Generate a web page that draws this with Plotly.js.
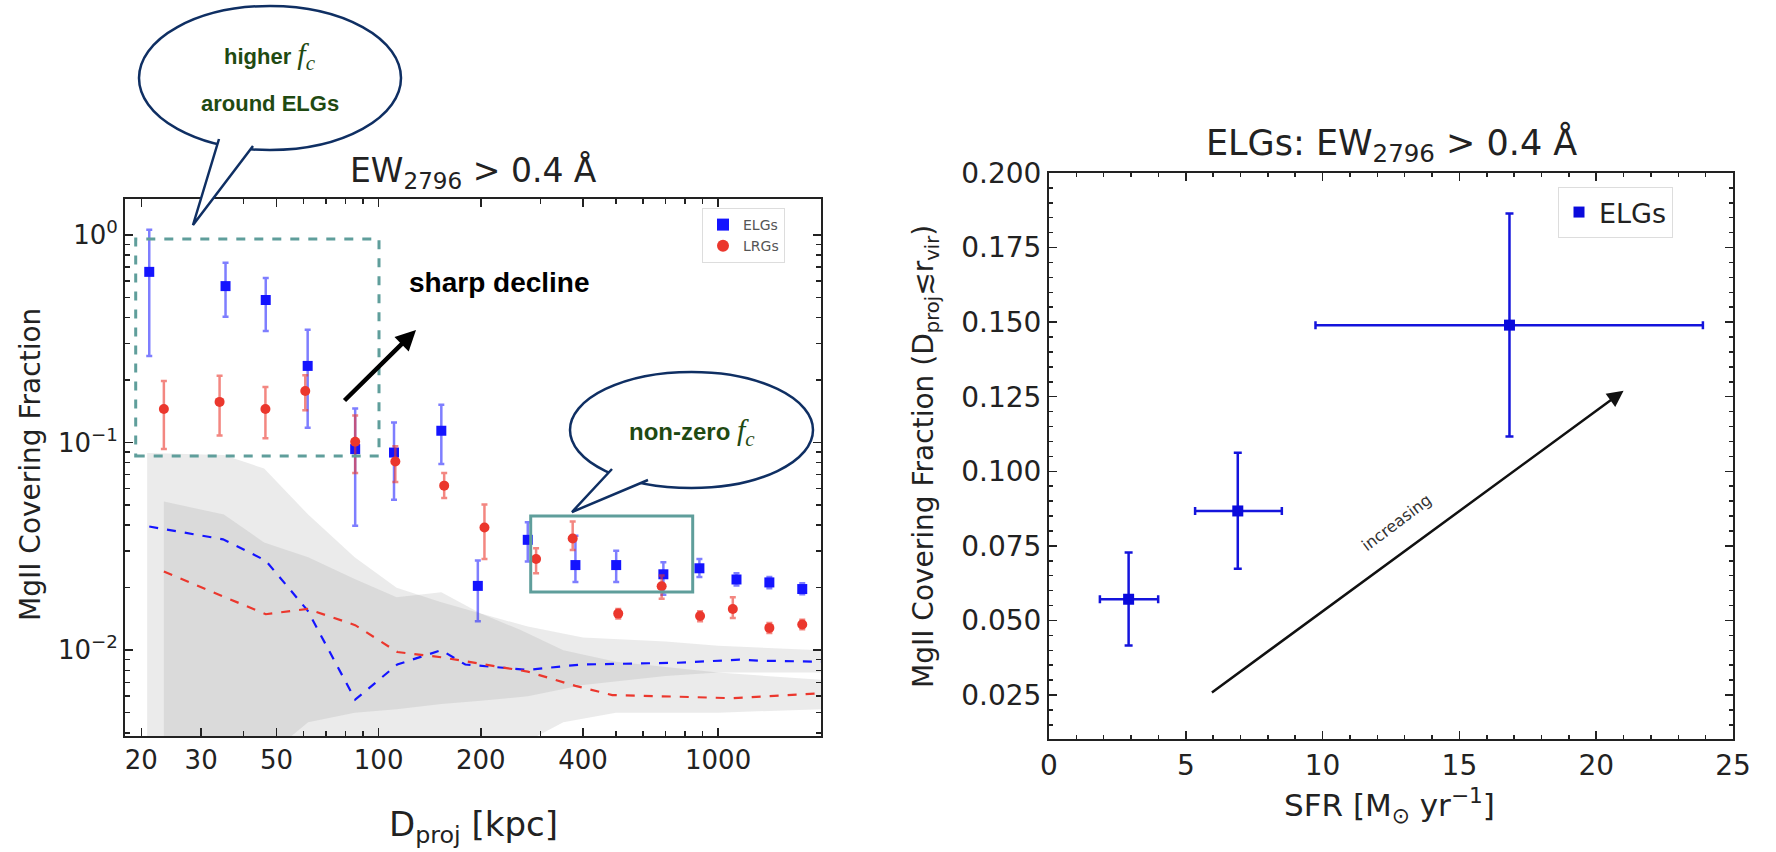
<!DOCTYPE html>
<html><head><meta charset="utf-8">
<script src="https://cdn.plot.ly/plotly-3.0.1.min.js"></script>
<style>html,body{margin:0;padding:0;background:#fff}</style>
</head><body><div id="plot" style="width:1776px;height:852px"></div>
<script>
// ---- Left panel data ----
const elgD   = [21.1, 35.4, 46.5, 61.8, 85.3, 111, 153, 196, 275, 380, 501, 690, 881, 1133, 1416, 1770];
const elgF   = [0.664, 0.567, 0.486, 0.234, 0.093, 0.0895, 0.114, 0.0204, 0.034, 0.0257, 0.0257, 0.0232, 0.0248, 0.0219, 0.0212, 0.0197];
const elgHi  = [1.06, 0.734, 0.621, 0.349, 0.146, 0.125, 0.152, 0.027, 0.0413, 0.0356, 0.0301, 0.0265, 0.0275, 0.0235, 0.0225, 0.021];
const elgLo  = [0.261, 0.404, 0.345, 0.118, 0.0398, 0.053, 0.0788, 0.0138, 0.0267, 0.0213, 0.0213, 0.0185, 0.0225, 0.0205, 0.0199, 0.0186];
const lrgD   = [23.3, 34, 46.4, 60.8, 85.3, 112, 156, 205, 291, 373, 508, 682, 885, 1105, 1416, 1770];
const lrgF   = [0.145, 0.157, 0.145, 0.177, 0.101, 0.081, 0.062, 0.039, 0.0275, 0.0345, 0.015, 0.0203, 0.0146, 0.0158, 0.0128, 0.0133];
const lrgHi  = [0.198, 0.21, 0.185, 0.211, 0.135, 0.096, 0.0713, 0.0503, 0.031, 0.0417, 0.0158, 0.0229, 0.0154, 0.018, 0.0135, 0.014];
const lrgLo  = [0.093, 0.108, 0.105, 0.143, 0.0713, 0.0646, 0.054, 0.0275, 0.0235, 0.0304, 0.0142, 0.0177, 0.0138, 0.0143, 0.0121, 0.0126];
const elgRandD = [21.1, 34.8, 46.5, 61.8, 85.3, 113.5, 153, 180, 275, 395, 760, 1156, 1320, 2010];
const elgRandF = [0.0394, 0.0342, 0.027, 0.0155, 0.00578, 0.00853, 0.0100, 0.00853, 0.00804, 0.00853, 0.0087, 0.0090, 0.0089, 0.0088];
const lrgRandD = [23.3, 34.8, 46.5, 61.8, 85.3, 113.5, 153, 206, 275, 380, 488, 760, 1100, 2010];
const lrgRandF = [0.0239, 0.0181, 0.0149, 0.0158, 0.0132, 0.0098, 0.00924, 0.00853, 0.00788, 0.00673, 0.00608, 0.00597, 0.00587, 0.0062];
const elgBandD  = [20.8, 35, 46, 62, 85, 113, 153, 200, 275, 400, 700, 1000, 2010];
const elgBandHi = [0.089, 0.087, 0.075, 0.045, 0.028, 0.020, 0.017, 0.015, 0.013, 0.0115, 0.011, 0.0105, 0.0100];
const elgBandLo = [0.003, 0.003, 0.003, 0.0045, 0.005, 0.0052, 0.0055, 0.0057, 0.006, 0.0068, 0.0075, 0.0078, 0.0078];
const lrgBandD  = [23.3, 35, 46, 62, 85, 113, 153, 200, 262, 350, 500, 1000, 2010];
const lrgBandHi = [0.052, 0.045, 0.033, 0.028, 0.022, 0.018, 0.019, 0.015, 0.0125, 0.0100, 0.0088, 0.0078, 0.0072];
const lrgBandLo = [0.003, 0.003, 0.003, 0.003, 0.003, 0.003, 0.003, 0.003, 0.0035, 0.0045, 0.005, 0.005, 0.0052];
const leftXTicks = [20, 30, 50, 100, 200, 400, 1000];
const leftYTicks = [0.01, 0.1, 1];
const leftYText  = ['10<sup>−2</sup>', '10<sup>−1</sup>', '10<sup>0</sup>'];
// ---- Right panel data ----
const sfr    = [2.91, 6.90, 16.83];
const sfrLo  = [1.86, 5.34, 9.74];
const sfrHi  = [3.99, 8.51, 23.9];
const fcV    = [0.0571, 0.0867, 0.149];
const fcLo   = [0.0416, 0.0673, 0.1117];
const fcHi   = [0.0728, 0.1062, 0.1864];

const W = 1776, H = 852;
const px = x => x / W, py = y => 1 - y / H;
const sub = (a, b) => a.map((v, i) => v - b[i]);
const BLUE = 'rgb(20,20,255)', RED = 'rgb(235,55,45)';
const FONT = 'DejaVu Sans, sans-serif';
const band = (d, lo, hi) => ({x: d.concat(d.slice().reverse()), y: hi.concat(lo.slice().reverse())});

const eb = band(elgBandD, elgBandLo, elgBandHi), lb = band(lrgBandD, lrgBandLo, lrgBandHi);
const traces = [
  {x: eb.x, y: eb.y, fill: 'toself', mode: 'none', fillcolor: 'rgba(128,128,128,0.16)', showlegend: false, xaxis: 'x', yaxis: 'y', hoverinfo: 'skip'},
  {x: lb.x, y: lb.y, fill: 'toself', mode: 'none', fillcolor: 'rgba(128,128,128,0.16)', showlegend: false, xaxis: 'x', yaxis: 'y', hoverinfo: 'skip'},
  {x: elgRandD, y: elgRandF, mode: 'lines', line: {color: BLUE, dash: 'dash', width: 2.2}, showlegend: false},
  {x: lrgRandD, y: lrgRandF, mode: 'lines', line: {color: RED, dash: 'dash', width: 2.2}, showlegend: false},
  {x: elgD, y: elgF, mode: 'markers', name: 'ELGs', legend: 'legend',
   marker: {symbol: 'square', size: 10, color: BLUE},
   error_y: {type: 'data', symmetric: false, array: sub(elgHi, elgF), arrayminus: sub(elgF, elgLo), color: 'rgba(40,40,255,0.6)', thickness: 2.5, width: 3}},
  {x: lrgD, y: lrgF, mode: 'markers', name: 'LRGs', legend: 'legend',
   marker: {symbol: 'circle', size: 10, color: RED},
   error_y: {type: 'data', symmetric: false, array: sub(lrgHi, lrgF), arrayminus: sub(lrgF, lrgLo), color: 'rgba(235,55,45,0.6)', thickness: 2.5, width: 3}},
  {x: sfr, y: fcV, xaxis: 'x2', yaxis: 'y2', mode: 'markers', name: 'ELGs', legend: 'legend2',
   marker: {symbol: 'square', size: 11, color: 'rgb(10,10,220)'},
   error_x: {type: 'data', symmetric: false, array: sub(sfrHi, sfr), arrayminus: sub(sfr, sfrLo), color: 'rgb(20,20,220)', thickness: 2.5, width: 4},
   error_y: {type: 'data', symmetric: false, array: sub(fcHi, fcV), arrayminus: sub(fcV, fcLo), color: 'rgb(20,20,220)', thickness: 2.5, width: 4}}
];

const axBase = {showline: true, linecolor: '#222', linewidth: 2, mirror: 'allticks', ticks: 'inside', ticklen: 8, tickwidth: 1.5, tickcolor: '#222',
  showgrid: false, zeroline: false, tickfont: {family: FONT, size: 26, color: '#222'}};

const rectPaper = (x0, y0, x1, y1, extra) => Object.assign({type: 'rect', xref: 'paper', yref: 'paper', x0: px(x0), x1: px(x1), y0: py(y1), y1: py(y0)}, extra);
const pathPaper = (pts) => 'M ' + pts.map(p => px(p[0]) + ',' + py(p[1])).join(' L ');
const NAVY = '#0f2f63';
const shapes = [
  rectPaper(135.7, 239, 379, 456, {line: {color: '#5f9e9b', width: 3, dash: 'dash'}}),
  rectPaper(530.7, 516, 692.7, 592, {line: {color: '#5f9e9b', width: 3}}),
  {type: 'circle', xref: 'paper', yref: 'paper', x0: px(139), x1: px(401), y0: py(150), y1: py(6), line: {color: NAVY, width: 2.5}, fillcolor: 'white'},
  {type: 'path', xref: 'paper', yref: 'paper', path: pathPaper([[219, 139], [193, 225], [253, 146]]), line: {color: NAVY, width: 2.5}, fillcolor: 'white'},
  {type: 'circle', xref: 'paper', yref: 'paper', x0: px(570), x1: px(813), y0: py(488), y1: py(372), line: {color: NAVY, width: 2.5}, fillcolor: 'white'},
  {type: 'path', xref: 'paper', yref: 'paper', path: pathPaper([[612, 469], [572, 512], [648, 480]]), line: {color: NAVY, width: 2.5}, fillcolor: 'white'}
];

const GREEN = '#1f4a12';
const fc = '<span style="font-family:\'Liberation Serif\',serif;font-weight:normal;font-size:30px"><i>f</i><sub><i>c</i></sub></span>';
const A = (x, y, text, extra) => Object.assign({xref: 'paper', yref: 'paper', x: px(x), y: py(y), text: text, showarrow: false, xanchor: 'center', yanchor: 'middle'}, extra);
const annotations = [
  A(473, 172, 'EW<sub>2796</sub> > 0.4 Å', {font: {family: FONT, size: 33, color: '#222'}}),
  A(1391, 144, 'ELGs: EW<sub>2796</sub> > 0.4 Å', {font: {family: FONT, size: 35, color: '#222'}}),
  A(473, 826, 'D<sub>proj</sub> [kpc]', {font: {family: FONT, size: 34, color: '#222'}}),
  A(1389, 805, 'SFR [M<sub>⊙</sub> yr<sup>−1</sup>]', {font: {family: FONT, size: 31, color: '#222'}}),
  A(30, 465, 'MgII Covering Fraction', {textangle: -90, font: {family: FONT, size: 28, color: '#222'}}),
  A(926, 456, 'MgII Covering Fraction (D<sub>proj</sub>≲r<sub>vir</sub>)', {textangle: -90, font: {family: FONT, size: 28, color: '#222'}}),
  A(270, 56, '<b>higher </b>' + fc, {font: {family: 'Liberation Sans, Arial, sans-serif', size: 22, color: GREEN}}),
  A(270, 104, '<b>around ELGs</b>', {font: {family: 'Liberation Sans, Arial, sans-serif', size: 22, color: GREEN}}),
  A(692, 432, '<b>non-zero </b>' + fc, {font: {family: 'Liberation Sans, Arial, sans-serif', size: 24, color: GREEN}}),
  A(499, 283, '<b>sharp decline</b>', {font: {family: 'Liberation Sans, Arial, sans-serif', size: 28, color: '#000'}}),
  {xref: 'paper', yref: 'paper', x: px(416), y: py(330), ax: -73, ay: 72, text: '', showarrow: true, arrowhead: 2, arrowsize: 0.9, arrowwidth: 4.5, arrowcolor: '#000'},
  {xref: 'x2', yref: 'y2', x: 21.0, y: 0.127, axref: 'x2', ayref: 'y2', ax: 5.9, ay: 0.0255, text: '', showarrow: true, arrowhead: 2, arrowsize: 1.3, arrowwidth: 2.5, arrowcolor: '#111'},
  {xref: 'x2', yref: 'y2', x: 12.7, y: 0.083, text: 'increasing', showarrow: false, textangle: -37, font: {family: FONT, size: 16, color: '#333'}}
];

const layout = {
  width: W, height: H, margin: {l: 0, r: 0, t: 0, b: 0}, paper_bgcolor: 'white', plot_bgcolor: 'white',
  xaxis: Object.assign({}, axBase, {type: 'log', domain: [px(125), px(821)], range: [Math.log10(17.9), Math.log10(2010)],
    tickmode: 'array', tickvals: leftXTicks, ticktext: leftXTicks.map(String), minor: {ticks: 'inside', ticklen: 5, tickcolor: '#222', dtick: 'D1'}, anchor: 'y'}),
  yaxis: Object.assign({}, axBase, {type: 'log', domain: [py(736), py(199)], range: [Math.log10(0.00386), Math.log10(1.49)],
    tickmode: 'array', tickvals: leftYTicks, ticktext: leftYText, minor: {ticks: 'inside', ticklen: 5, tickcolor: '#222', dtick: 'D1'}, anchor: 'x'}),
  xaxis2: Object.assign({}, axBase, {domain: [px(1049), px(1733)], range: [0, 25], dtick: 5, tick0: 0, anchor: 'y2',
    tickfont: {family: FONT, size: 28, color: '#222'}, minor: {ticks: 'inside', ticklen: 4, tickcolor: '#222', dtick: 1}}),
  yaxis2: Object.assign({}, axBase, {domain: [py(739), py(173)], range: [0.01025, 0.2], dtick: 0.025, tick0: 0, tickformat: '.3f', anchor: 'x2',
    tickfont: {family: FONT, size: 28, color: '#222'}, minor: {ticks: 'inside', ticklen: 4, tickcolor: '#222', dtick: 0.005}}),
  legend: {x: px(702), y: py(208), xanchor: 'left', yanchor: 'top', bgcolor: 'white', bordercolor: '#ddd', borderwidth: 1,
    font: {family: FONT, size: 14, color: '#555'}, itemsizing: 'constant'},
  legend2: {x: px(1558), y: py(187), xanchor: 'left', yanchor: 'top', bgcolor: 'white', bordercolor: '#ddd', borderwidth: 1,
    font: {family: FONT, size: 27, color: '#222'}},
  shapes: shapes, annotations: annotations
};
Plotly.newPlot('plot', traces, layout, {staticPlot: true});
</script></body></html>
